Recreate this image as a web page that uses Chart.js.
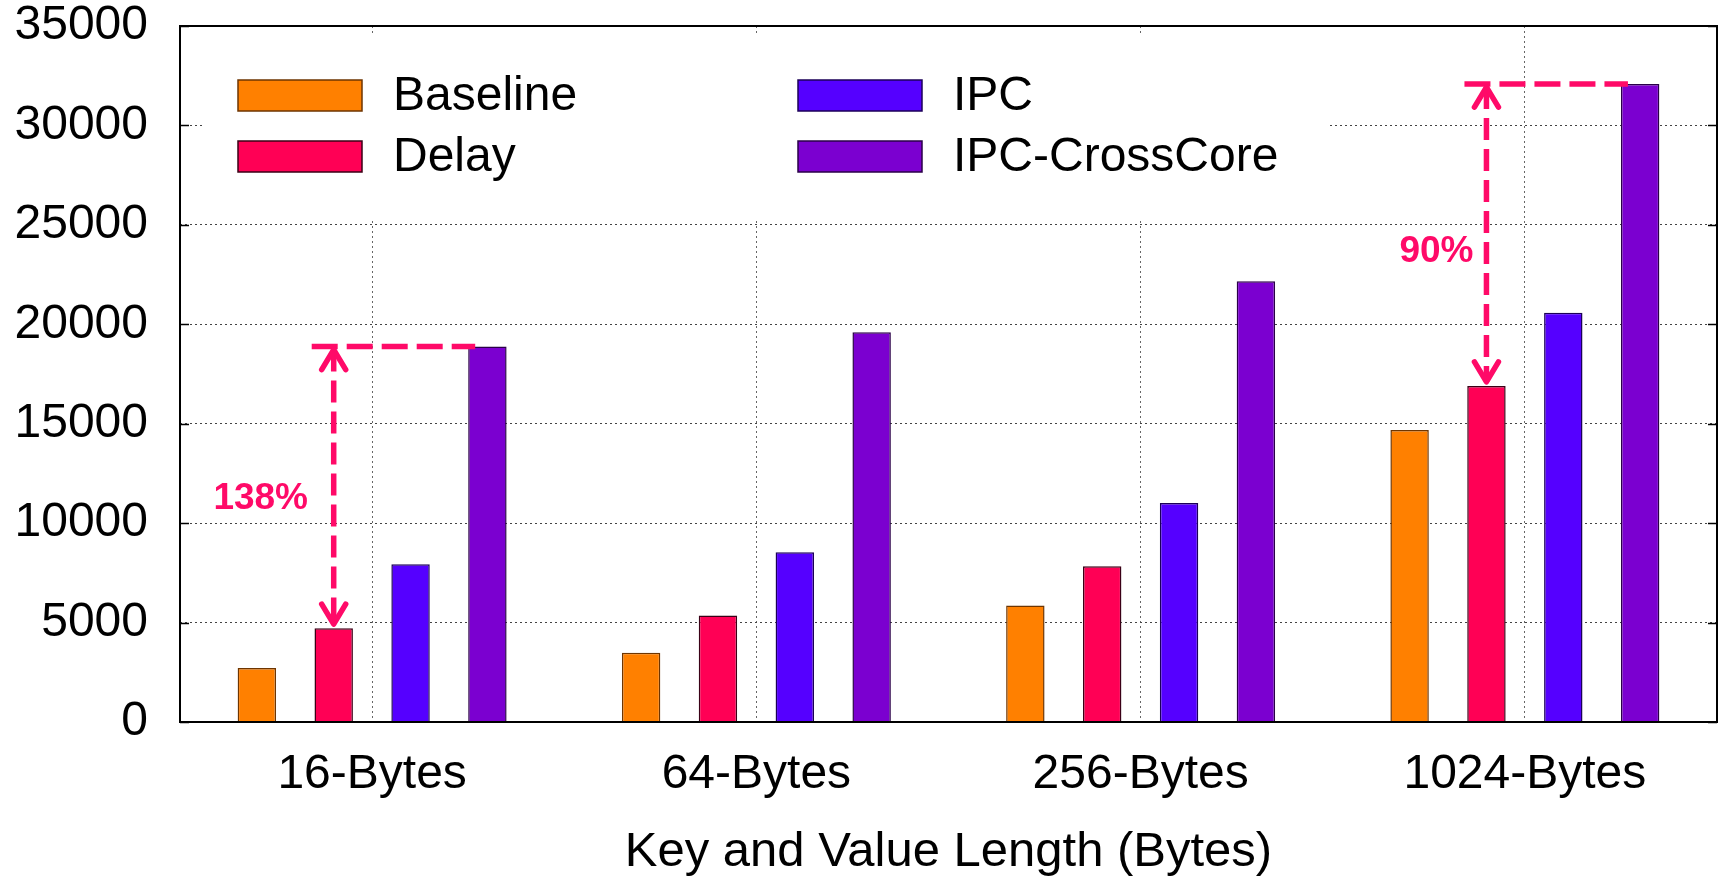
<!DOCTYPE html>
<html>
<head>
<meta charset="utf-8">
<script src="https://cdn.jsdelivr.net/npm/chart.js@4.4.1/dist/chart.umd.min.js"></script>
<style>
  html, body { margin: 0; padding: 0; background: #fff; }
  canvas { display: block; }
</style>
</head>
<body>
<canvas id="chart" width="1725" height="878"></canvas>
<script>
// Throughput per key/value length, four configurations
const categories = ['16-Bytes', '64-Bytes', '256-Bytes', '1024-Bytes'];
const seriesNames = ['Baseline', 'Delay', 'IPC', 'IPC-CrossCore'];
const baseline     = [2710, 3480, 5860, 14680];
const delay        = [4720, 5350, 7830, 16900];
const ipc          = [7930, 8530, 11010, 20580];
const ipcCrossCore = [18880, 19600, 22160, 32080];
const yTickValues  = [0, 5000, 10000, 15000, 20000, 25000, 30000, 35000];
const xTitle = 'Key and Value Length (Bytes)';

// Improvement callouts: arrow from the Delay bar up to the IPC-CrossCore bar
const gainCategories = [0, 3];
const gainTexts = ['138%', '90%'];

const FONT = "'Liberation Sans', Arial, Helvetica, sans-serif";
const fills   = ['#ff8000', '#ff0055', '#5500ff', '#7b00d0'];
const borders = ['#6e3500', '#3a0016', '#1c0058', '#2a0048'];
const accent  = '#ff0a68';
const labelShift = [{ dx: -73, dy: 11 }, { dx: -50, dy: 17 }];

const seriesValues = [baseline, delay, ipc, ipcCrossCore];

const decorations = {
  id: 'decorations',
  beforeDatasetsDraw(chart) {
    // opaque key box hides the grid behind it
    const a = chart.chartArea;
    const ctx = chart.ctx;
    ctx.save();
    ctx.fillStyle = '#fff';
    ctx.fillRect(a.left + 23, a.top + 9, 1126, 183);
    ctx.restore();
  },
  afterDatasetsDraw(chart) {
    const ctx = chart.ctx;
    const a = chart.chartArea;
    const y = chart.scales.y;

    ctx.save();
    // plot frame
    ctx.strokeStyle = '#000';
    ctx.lineWidth = 2;
    ctx.strokeRect(a.left, a.top, a.right - a.left, a.bottom - a.top);
    // inward tick marks on both vertical borders
    ctx.lineWidth = 1.5;
    ctx.beginPath();
    yTickValues.forEach(v => {
      const py = Math.round(y.getPixelForValue(v)) + 0.5;
      ctx.moveTo(a.left, py); ctx.lineTo(a.left + 9, py);
      ctx.moveTo(a.right, py); ctx.lineTo(a.right - 9, py);
    });
    ctx.stroke();

    // key: two columns, two rows
    ctx.font = '48px ' + FONT;
    ctx.textAlign = 'left';
    ctx.textBaseline = 'middle';
    chart.data.datasets.forEach((ds, i) => {
      const col = Math.floor(i / 2), row = i % 2;
      const sx = a.left + 58 + col * 560;
      const sy = a.top + 54 + row * 61;
      ctx.fillStyle = ds.backgroundColor;
      ctx.fillRect(sx, sy, 124, 31);
      ctx.strokeStyle = ds.borderColor;
      ctx.lineWidth = 1.5;
      ctx.strokeRect(sx, sy, 124, 31);
      ctx.fillStyle = '#000';
      ctx.fillText(ds.label, sx + 155, sy + 17);
    });

    // improvement callouts
    gainCategories.forEach((cat, k) => {
      const low = chart.getDatasetMeta(1).data[cat];
      const high = chart.getDatasetMeta(3).data[cat];
      const ax = low.x;
      const yHigh = high.y;
      const yLow = low.y - 4;
      ctx.strokeStyle = accent;
      ctx.lineWidth = 5.5;
      ctx.lineCap = 'butt';
      // horizontal reference at the taller bar
      ctx.setLineDash([26, 9]);
      ctx.beginPath();
      ctx.moveTo(ax - 22, yHigh);
      ctx.lineTo(high.x - high.width / 2 + 7, yHigh);
      ctx.stroke();
      // vertical shaft
      ctx.setLineDash([22, 9]);
      ctx.beginPath();
      ctx.moveTo(ax, yHigh + 3);
      ctx.lineTo(ax, yLow);
      ctx.stroke();
      // open arrow heads
      ctx.setLineDash([]);
      ctx.lineCap = 'round';
      ctx.lineJoin = 'round';
      ctx.beginPath();
      ctx.moveTo(ax - 12, yHigh + 23); ctx.lineTo(ax, yHigh + 3); ctx.lineTo(ax + 12, yHigh + 23);
      ctx.moveTo(ax - 12, yLow - 20); ctx.lineTo(ax, yLow); ctx.lineTo(ax + 12, yLow - 20);
      ctx.stroke();
      // percentage text
      ctx.fillStyle = accent;
      ctx.font = 'bold 37px ' + FONT;
      ctx.textAlign = 'center';
      ctx.textBaseline = 'middle';
      const midY = (yHigh + low.y) / 2;
      ctx.fillText(gainTexts[k], ax + labelShift[k].dx, midY + labelShift[k].dy);
    });
    ctx.restore();
  }
};

Chart.defaults.font.family = FONT;
Chart.defaults.color = '#000';

new Chart(document.getElementById('chart'), {
  type: 'bar',
  data: {
    labels: categories,
    datasets: seriesNames.map((name, i) => ({
      label: name,
      data: seriesValues[i],
      backgroundColor: fills[i],
      borderColor: borders[i],
      borderWidth: 1.5,
      categoryPercentage: 0.8,
      barPercentage: 0.5
    }))
  },
  options: {
    responsive: false,
    animation: false,
    devicePixelRatio: 1,
    layout: { padding: { left: 0, right: 8, top: 26, bottom: 0 } },
    plugins: {
      legend: { display: false },
      tooltip: { enabled: false }
    },
    scales: {
      x: {
        offset: true,
        grid: { offset: false, color: '#666', lineWidth: 1, drawTicks: false },
        border: { display: false, dash: [2, 3] },
        ticks: { font: { size: 48 }, color: '#000', padding: 24 },
        title: {
          display: true,
          text: xTitle,
          font: { size: 49, lineHeight: 1.05 },
          color: '#000',
          padding: { top: 0, bottom: 0 }
        },
        afterFit(s) { s.height = 156; s.paddingLeft = 0; s.paddingRight = 0; }
      },
      y: {
        min: 0,
        max: 35000,
        afterBuildTicks(s) { s.ticks = yTickValues.map(v => ({ value: v })); },
        grid: { color: '#444', lineWidth: 1, drawTicks: false },
        border: { display: false, dash: [2, 3] },
        ticks: {
          font: { size: 48 },
          color: '#000',
          padding: 32,
          callback: v => String(v)
        },
        afterFit(s) { s.width = 180; s.paddingTop = 0; s.paddingBottom = 0; }
      }
    }
  },
  plugins: [decorations]
});
</script>
</body>
</html>
